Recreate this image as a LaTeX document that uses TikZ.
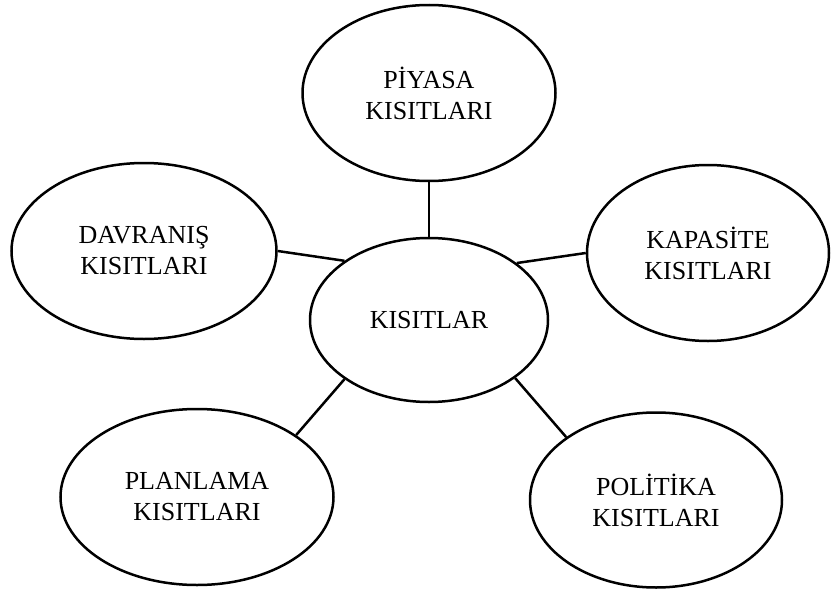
\documentclass[tikz,border=0pt]{standalone}
\usepackage{fontspec}
\setmainfont{Liberation Serif}
\usetikzlibrary{shapes.geometric}
\begin{document}
\begin{tikzpicture}[x=1pt,y=-1pt,
  bubble/.style={draw=black, line width=2.5pt, ellipse, inner sep=0pt, align=center,
    font=\fontsize{26}{31}\selectfont},
  link/.style={draw=black, line width=2.5pt}]
\useasboundingbox (0,0) rectangle (831,589);
\node[bubble, minimum width=238pt, minimum height=164pt] (c) at (429,320) {KISITLAR};
\node[bubble, minimum width=253pt, minimum height=176pt] (p) at (429,93) {PİYASA\\KISITLARI};
\node[bubble, minimum width=265pt, minimum height=176pt] (d) at (144,251) {DAVRANIŞ\\KISITLARI};
\node[bubble, minimum width=242pt, minimum height=176pt] (k) at (708,253) {KAPASİTE\\KISITLARI};
\node[bubble, minimum width=273pt, minimum height=176pt] (pl) at (197,497) {PLANLAMA\\KISITLARI};
\node[bubble, minimum width=252pt, minimum height=175pt] (po) at (656,500) {POLİTİKA\\KISITLARI};
\draw[link] (p.south) -- (c.north);
\draw[link] (d.east) -- (c.145.4);
\draw[link] (k.west) -- (c.33.8);
\draw[link] (pl.32.9) -- (c.215.5);
\draw[link] (po.145) -- (c.-34.8);
\end{tikzpicture}
\end{document}
